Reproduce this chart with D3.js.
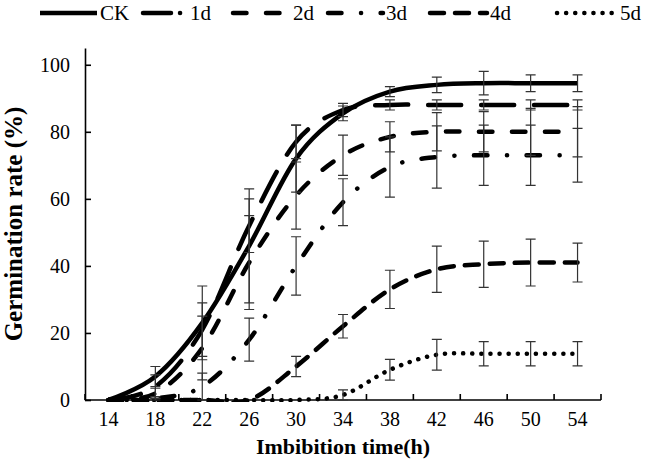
<html>
<head>
<meta charset="utf-8">
<title>germination</title>
<style>
  body { margin: 0; background: #fff; }
  text { font-family: "Liberation Serif", "Times New Roman", serif; }
  .axis path, .axis line { fill: none; stroke: #000; stroke-width: 1.6; }
  .axis text { font-size: 20px; fill: #000; font-family: "Liberation Serif", serif; }
</style>
</head>
<body>
<script src="https://d3js.org/d3.v7.min.js"></script>
<script>
// imbibition time (h)
var hours = [14, 18, 22, 26, 30, 34, 38, 42, 46, 50, 54];
var yTicks = [0, 20, 40, 60, 80, 100];

// germination rate (%) per treatment
var rateCK = [0, 7, 23, 46, 72, 85.5, 92, 94, 94.5, 94.5, 94.5];
var rate1d = [0, 4, 21, 52, 77, 86.5, 88, 88, 88, 88, 88];
var rate2d = [0, 2, 15.5, 41, 61, 73, 78.5, 80, 80, 80, 80];
var rate3d = [0, 0.5, 4, 18, 40, 59, 69.5, 72.5, 73, 73, 73];
var rate4d = [0, 0, 0, 0, 10, 22, 33, 39, 40.5, 41, 41];
var rate5d = [0, 0, 0, 0, 0, 1.5, 9, 13.5, 13.8, 13.8, 13.8];

// standard errors (null = no bar)
var errCK = [null, 3, 11, 17, 10, 2.2, 1.5, 2.3, 3.5, 2.5, 2.5];
var err1d = [null, 3.5, 8, 8, 5, 2, 1.5, 1.5, 1.5, 1.5, 1.5];
var err2d = [null, 1.5, 9.5, 14, 10, 6, 4.5, 5.7, 6, 7, 7.5];
var err3d = [null, 0.5, 4, 6.4, 8.7, 7, 9, 9.3, 9, 9, 8];
var err4d = [null, null, null, null, 3, 3.5, 5.7, 6.9, 6.9, 7, 5.8];
var err5d = [null, null, null, null, null, 1.5, 3.1, 4.6, 3.6, 3.6, 3.6];

var names = ["CK", "1d", "2d", "3d", "4d", "5d"];
var values = [rateCK, rate1d, rate2d, rate3d, rate4d, rate5d];
var errors = [errCK, err1d, err2d, err3d, err4d, err5d];
var dashes = ["none", "33,20", "13.5,19.5", "13.5,19.5,0.1,19.5", "14,11", "0.1,9"];
var legendDashes = ["none", "28,9,0.1,9", "13.5,19.5", "13.5,19.5,0.1,19.5", "14,11", "0.1,9"];

var width = 654, height = 468;
var svg = d3.select("body").append("svg")
  .attr("width", width).attr("height", height);

var x = d3.scaleBand().domain(hours).range([85, 601]);
var y = d3.scaleLinear().domain([0, 105]).range([400, 48]);
var cx = function(h) { return x(h) + x.bandwidth() / 2; };

svg.append("clipPath").attr("id", "plot")
  .append("rect").attr("x", 85).attr("y", 40).attr("width", 520).attr("height", 362);

// axes
var xAxis = d3.axisBottom(x).tickSize(0).tickPadding(12);
var gx = svg.append("g").attr("class", "axis")
  .attr("transform", "translate(0,400)").call(xAxis);
gx.select(".domain").attr("d", "M85,0H601");
// category separators (inside ticks)
gx.selectAll(".sep").data(d3.range(hours.length + 1)).enter()
  .append("line").attr("class", "sep")
  .attr("x1", function(i) { return 85 + i * x.bandwidth(); })
  .attr("x2", function(i) { return 85 + i * x.bandwidth(); })
  .attr("y1", 0).attr("y2", -6);

var yAxis = d3.axisLeft(y).tickValues(yTicks).tickSizeInner(-6).tickSizeOuter(0).tickPadding(15);
svg.append("g").attr("class", "axis")
  .attr("transform", "translate(85,0)").call(yAxis);

// lines
var line = d3.line()
  .x(function(d, i) { return cx(hours[i]); })
  .y(function(d) { return y(d); })
  .curve(d3.curveCardinal.tension(0));

svg.append("g").attr("clip-path", "url(#plot)")
  .selectAll(".series").data(values).enter()
  .append("path").attr("class", "series")
  .attr("d", function(d) { return line(d); })
  .attr("fill", "none").attr("stroke", "#000")
  .attr("stroke-width", 4.5)
  .attr("stroke-linecap", function(d, i) { return i == 0 ? "butt" : "round"; })
  .attr("stroke-dasharray", function(d, i) { return dashes[i]; });

// error bars
var bars = [];
values.forEach(function(vals, s) {
  vals.forEach(function(v, i) {
    if (errors[s][i] != null) bars.push({ h: hours[i], v: v, e: errors[s][i] });
  });
});
var eb = svg.append("g").attr("stroke", "#333").attr("stroke-width", 1.2);
eb.selectAll(".ebar").data(bars).enter().append("path").attr("class", "ebar")
  .attr("fill", "none")
  .attr("d", function(d) {
    var px = cx(d.h), t = y(d.v + d.e), b = y(Math.max(0, d.v - d.e));
    return "M" + (px - 5) + "," + t + "H" + (px + 5) +
      "M" + px + "," + t + "V" + b +
      "M" + (px - 5) + "," + b + "H" + (px + 5);
  });

// axis titles
svg.append("text")
  .attr("x", 343).attr("y", 454)
  .attr("text-anchor", "middle")
  .attr("font-size", 22).attr("font-weight", "bold")
  .text("Imbibition time(h)");
svg.append("text")
  .attr("transform", "translate(22,224) rotate(-90)")
  .attr("text-anchor", "middle")
  .attr("font-size", 25).attr("font-weight", "bold")
  .text("Germination rate (%)");

// legend
var legendX = [40, 143, 233, 328, 430, 557];
var legendLen = [57, 44, 57, 55, 57, 60];
var lg = svg.selectAll(".leg").data(names).enter().append("g").attr("class", "leg");
lg.append("line")
  .attr("x1", function(d, i) { return legendX[i]; })
  .attr("x2", function(d, i) { return legendX[i] + legendLen[i]; })
  .attr("y1", 13).attr("y2", 13)
  .attr("stroke", "#000").attr("stroke-width", 4.5)
  .attr("stroke-linecap", function(d, i) { return i == 0 ? "butt" : "round"; })
  .attr("stroke-dasharray", function(d, i) { return legendDashes[i]; });
lg.append("text")
  .attr("x", function(d, i) { return legendX[i] + legendLen[i] + 3; })
  .attr("y", 20)
  .attr("font-size", 21)
  .text(function(d) { return d; });
</script>
</body>
</html>
